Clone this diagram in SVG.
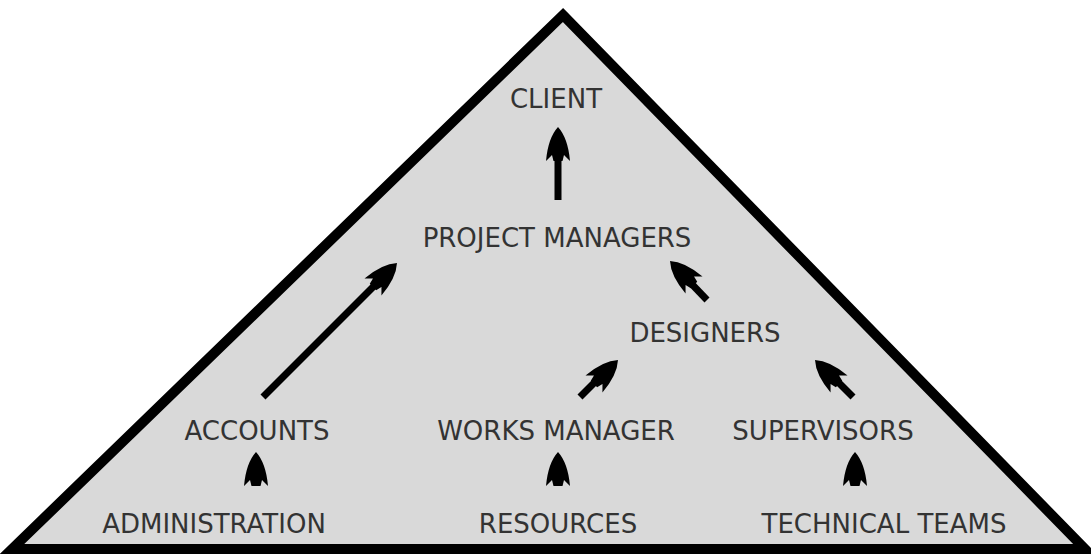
<svg xmlns="http://www.w3.org/2000/svg" xmlns:xlink="http://www.w3.org/1999/xlink" width="1091" height="556" viewBox="0 0 1091 556">
<style>
.lbl{font-family:"DejaVu Sans","Liberation Sans",sans-serif;font-size:26px;fill:#333;text-anchor:middle}
.shaft{stroke:#000;stroke-width:7;fill:none}
.head{fill:#000}
</style>
<defs>
<path id="head" d="M0,0 Q10,11 12,34 L6,28 L4.5,34 L-4.5,34 L-6,28 L-12,34 Q-10,11 0,0 Z"/>
</defs>
<rect width="1091" height="556" fill="#fff"/>
<g id="pyramid">
<path d="M563,15 L1085,549 L12,549 Z" fill="#d9d9d9" stroke="#000" stroke-width="10" stroke-linejoin="miter" stroke-miterlimit="10"/>
</g>
<g id="client"><text class="lbl" x="556" y="108">CLIENT</text></g>
<g id="project-managers"><text class="lbl" x="557" y="247">PROJECT MANAGERS</text></g>
<g id="designers"><text class="lbl" x="705" y="342">DESIGNERS</text></g>
<g id="accounts"><text class="lbl" x="257" y="440">ACCOUNTS</text></g>
<g id="works-manager"><text class="lbl" x="556" y="440">WORKS MANAGER</text></g>
<g id="supervisors"><text class="lbl" x="823" y="440">SUPERVISORS</text></g>
<g id="administration"><text class="lbl" x="214" y="533">ADMINISTRATION</text></g>
<g id="resources"><text class="lbl" x="558" y="533">RESOURCES</text></g>
<g id="technical-teams"><text class="lbl" x="884" y="533">TECHNICAL TEAMS</text></g>
<g id="connectors">
<line class="shaft" x1="558" y1="200" x2="558" y2="150"/>
<use href="#head" class="head" transform="translate(558,127)"/>
<line class="shaft" x1="263" y1="397" x2="380" y2="280"/>
<use href="#head" class="head" transform="translate(397,263) rotate(45)"/>
<line class="shaft" x1="707" y1="300" x2="685" y2="277"/>
<use href="#head" class="head" transform="translate(670,261) rotate(-45)"/>
<line class="shaft" x1="580" y1="397" x2="602" y2="375"/>
<use href="#head" class="head" transform="translate(618,360) rotate(45)"/>
<line class="shaft" x1="853" y1="397" x2="831" y2="375"/>
<use href="#head" class="head" transform="translate(815,360) rotate(-45)"/>
<use href="#head" class="head" transform="translate(256,452)"/>
<use href="#head" class="head" transform="translate(558,452)"/>
<use href="#head" class="head" transform="translate(855,452)"/>
</g>
</svg>
